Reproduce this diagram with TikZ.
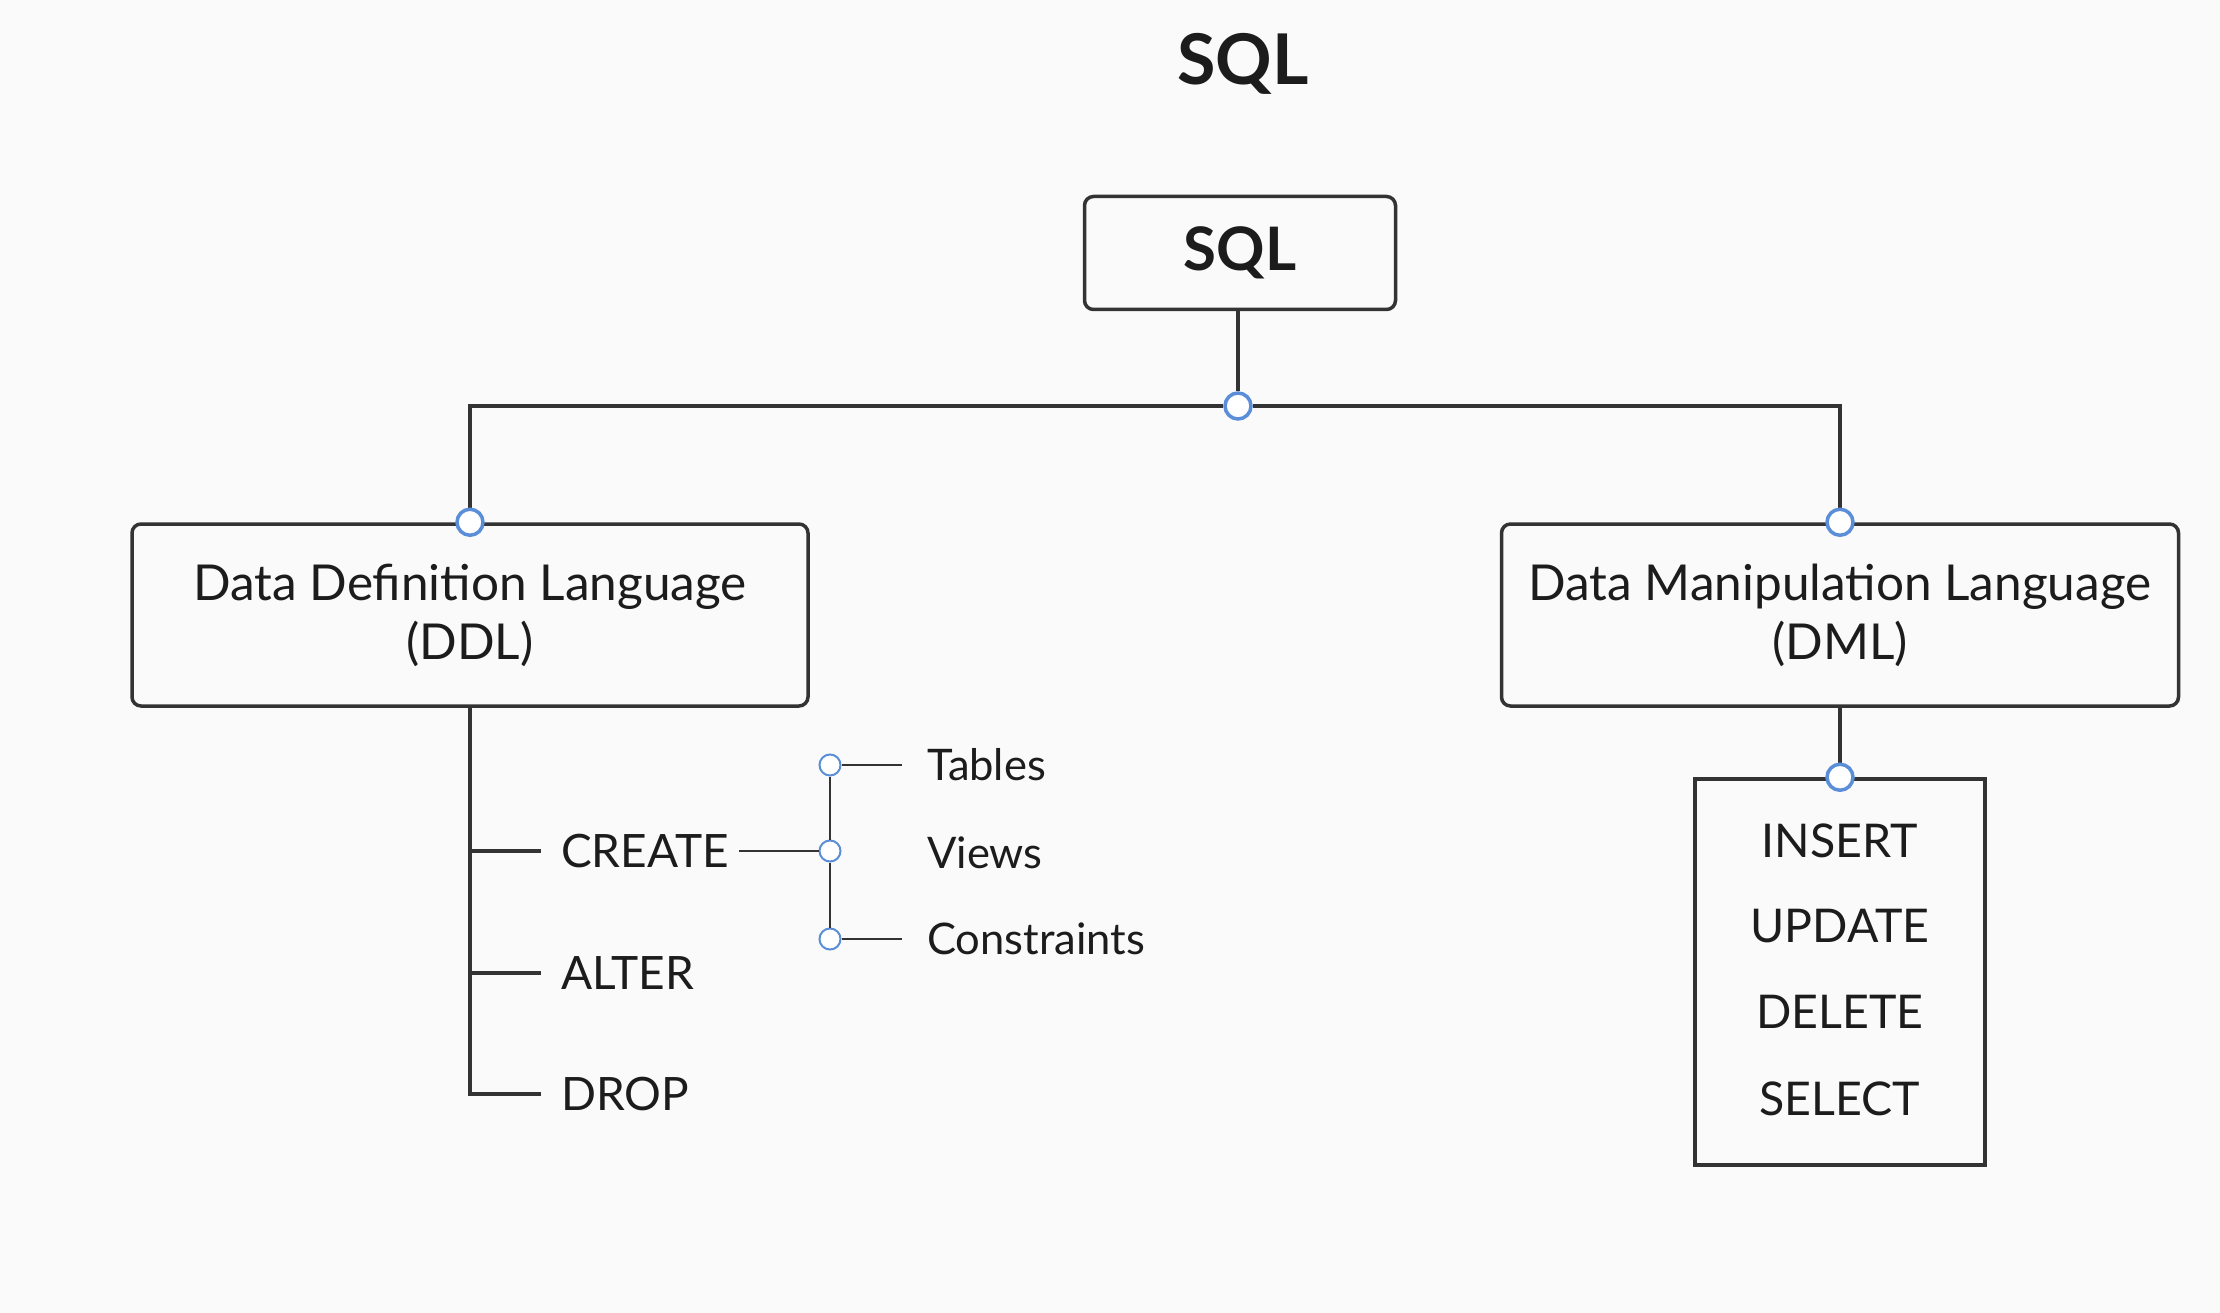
\documentclass[tikz,border=0pt]{standalone}
\usepackage{fontspec}
\setmainfont{Lato}
\usetikzlibrary{positioning}
\definecolor{bgcol}{HTML}{FAFAFA}
\definecolor{linecol}{HTML}{333333}
\definecolor{dotcol}{HTML}{5B8ED8}
\definecolor{inkcol}{HTML}{1C1C1C}
\begin{document}
\begin{tikzpicture}[x=1pt,y=-1pt,
    box/.style={draw=linecol, line width=3.5pt, rounded corners=9pt, fill=bgcol, align=center, inner sep=0pt, text=inkcol, font=\fontsize{49.5}{59}\selectfont},
    listbox/.style={draw=linecol, line width=3.5pt, fill=bgcol, inner sep=0pt},
    item/.style={anchor=west, inner xsep=20pt, inner ysep=0pt, text=inkcol, font=\fontsize{46}{52}\selectfont},
    subitem/.style={anchor=west, inner xsep=25pt, inner ysep=0pt, text=inkcol, font=\fontsize{43.5}{48}\selectfont},
    op/.style={inner sep=0pt, text=inkcol, font=\fontsize{46.5}{52}\selectfont},
    dot/.style={circle, draw=dotcol, line width=3.5pt, fill=white, inner sep=0pt, minimum size=26pt},
    smalldot/.style={circle, draw=dotcol, line width=2pt, fill=white, inner sep=0pt, minimum size=21pt},
    link/.style={draw=linecol, line width=3.5pt},
    sublink/.style={draw=linecol, line width=2.5pt}]
    \path[fill=bgcol] (0,0) rectangle (2220,1313);
    \node[text=inkcol, font=\fontsize{70}{74}\selectfont\bfseries] (title) at (1243,64) {SQL};
    % top level
    \node[box, minimum width=311pt, minimum height=113pt, font=\fontsize{60}{62}\selectfont\bfseries] (sql) at (1240,253) {SQL};
    \node[dot] (junc) at (1238,406) {};
    \node[box, minimum width=676pt, minimum height=182pt] (ddl) at (470,615) {Data Definition Language\\(DDL)};
    \node[box, minimum width=677pt, minimum height=182pt] (dml) at (1840,615) {Data Manipulation Language\\(DML)};
    \coordinate (lcorner) at (ddl.north |- junc);
    \coordinate (rcorner) at (dml.north |- junc);
    \draw[link] (junc |- sql.south) -- (junc);
    \draw[link] (junc) -- (lcorner) -- (ddl.north);
    \draw[link] (junc) -- (rcorner) -- (dml.north);
    \node[dot] (ddltop) at (ddl.north) {};
    \node[dot] (dmltop) at (dml.north) {};
    % DDL commands
    \node[item] (create) at (541,851) {CREATE};
    \node[item] (alter) at (541,973) {ALTER};
    \node[item] (drop) at (541,1094) {DROP};
    \draw[link] (ddl.south) -- (drop.west -| ddl.south) -- (drop.west);
    \draw[link] (create.west -| ddl.south) -- (create.west);
    \draw[link] (alter.west -| ddl.south) -- (alter.west);
    % objects of CREATE
    \node[smalldot] (tdot) at (830,765) {};
    \node[smalldot] (vdot) at (830,851) {};
    \node[smalldot] (kdot) at (830,939) {};
    \draw[sublink, shorten <=-10pt] (create.east) -- (vdot);
    \draw[sublink] (tdot) -- (vdot) -- (kdot);
    \node[subitem] (tables) at (902,765) {Tables};
    \node[subitem] (views) at (902,853) {Views};
    \node[subitem] (constr) at (902,939) {Constraints};
    \draw[sublink] (tdot) -- (tables.west);
    \draw[sublink] (kdot) -- (constr.west);
    % DML commands
    \node[listbox, minimum width=290pt, minimum height=386pt] (ops) at (1840,972) {};
    \draw[link] (dml.south) -- (ops.north);
    \node[dot] (opstop) at (ops.north) {};
    \node[op] (insert) at (1840,841) {INSERT};
    \node[op] (update) at (1840,926) {UPDATE};
    \node[op] (delete) at (1840,1012) {DELETE};
    \node[op] (select) at (1840,1099) {SELECT};
\end{tikzpicture}
\end{document}
